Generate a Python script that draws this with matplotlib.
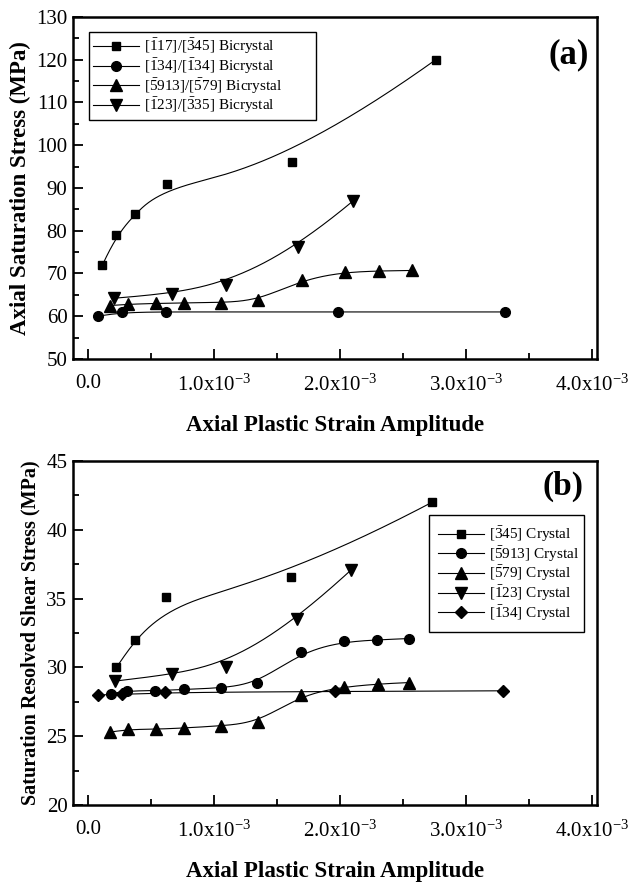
import numpy as np
import matplotlib
matplotlib.use("Agg")
import matplotlib.pyplot as plt
from matplotlib.ticker import MultipleLocator

plt.rcParams['font.family'] = ['Liberation Serif', 'DejaVu Serif']
plt.rcParams['mathtext.fontset'] = 'custom'
plt.rcParams['mathtext.rm'] = 'Liberation Serif'
plt.rcParams['mathtext.it'] = 'Liberation Serif:italic'
plt.rcParams['mathtext.bf'] = 'Liberation Serif:bold'

# ---- panel (a): bicrystals, strain in units of 1e-3 ----
a_sq_x = [0.114, 0.224, 0.376, 0.624, 1.62, 2.76]
a_sq_y = [72, 79, 84, 91, 96, 120]
a_ci_x = [0.082, 0.268, 0.615, 1.98, 3.31]
a_ci_y = [60, 61, 61, 61, 61]
a_tu_x = [0.175, 0.315, 0.536, 0.758, 1.058, 1.35, 1.70, 2.04, 2.31, 2.57]
a_tu_y = [62.5, 62.8, 63.0, 63.1, 63.2, 63.7, 68.5, 70.4, 70.6, 70.7]
a_td_x = [0.204, 0.665, 1.096, 1.668, 2.105]
a_td_y = [64.2, 65.3, 67.2, 76.3, 87.0]

a_labels = [r'[$\bar{1}$17]/[$\bar{3}$45] Bicrystal',
            r'[$\bar{1}$34]/[$\bar{1}$34] Bicrystal',
            r'[$\bar{5}$913]/[$\bar{5}$79] Bicrystal',
            r'[$\bar{1}$23]/[$\bar{3}$35] Bicrystal']

# ---- panel (b): single crystals ----
b_sq_x = [0.225, 0.373, 0.618, 1.61, 2.73]
b_sq_y = [30.0, 32.0, 35.1, 36.6, 42.0]
b_ci_x = [0.18, 0.31, 0.53, 0.76, 1.055, 1.344, 1.694, 2.03, 2.29, 2.55]
b_ci_y = [28.1, 28.3, 28.3, 28.4, 28.5, 28.85, 31.1, 31.9, 32.0, 32.1]
b_tu_x = [0.176, 0.315, 0.54, 0.763, 1.052, 1.35, 1.694, 2.03, 2.30, 2.55]
b_tu_y = [25.3, 25.5, 25.5, 25.6, 25.75, 26.0, 28.0, 28.6, 28.8, 28.9]
b_td_x = [0.21, 0.665, 1.095, 1.66, 2.09]
b_td_y = [29.0, 29.5, 30.0, 33.5, 37.1]
b_di_x = [0.08, 0.27, 0.61, 1.96, 3.29]
b_di_y = [28.0, 28.05, 28.2, 28.25, 28.3]

b_labels = [r'[$\bar{3}$45] Crystal',
            r'[$\bar{5}$913] Crystal',
            r'[$\bar{5}$79] Crystal',
            r'[$\bar{1}$23] Crystal',
            r'[$\bar{1}$34] Crystal']

xtick_vals = [0, 1, 2, 3, 4]
xtick_labels = ['0.0', r'1.0x10$^{-3}$', r'2.0x10$^{-3}$', r'3.0x10$^{-3}$', r'4.0x10$^{-3}$']


def bspline(xs, ys, k=3, num=300):
    # clamped uniform B-spline using the data points as control points
    pts = np.column_stack([xs, ys]).astype(float)
    n = len(pts)
    k = min(k, n - 1)
    t = np.concatenate([np.zeros(k + 1), np.arange(1, n - k), np.full(k + 1, n - k)]).astype(float)
    u = np.linspace(0, n - k, num)
    N = np.zeros((len(t) - 1, num))
    for i in range(len(t) - 1):
        N[i] = (t[i] <= u) & (u < t[i + 1])
    N[n - 1, -1] = 1.0
    for p in range(1, k + 1):
        Nn = np.zeros((len(t) - 1 - p, num))
        for i in range(len(t) - 1 - p):
            d1 = t[i + p] - t[i]
            d2 = t[i + p + 1] - t[i + 1]
            if d1 > 0:
                Nn[i] += (u - t[i]) / d1 * N[i]
            if d2 > 0:
                Nn[i] += (t[i + p + 1] - u) / d2 * N[i + 1]
        N = Nn
    c = N.T @ pts
    return c[:, 0], c[:, 1]


def draw(ax, xs, ys, marker, ms, label):
    x = np.array(xs) * 1e-3
    cx, cy = bspline(x, ys)
    ax.plot(cx, cy, color='black', lw=0.8)
    ax.plot(x, ys, ls='none', marker=marker, ms=ms, color='black')
    return ax.plot([], [], color='black', lw=0.8, marker=marker, ms=ms, label=label)[0]


def style(ax, ylo, yhi, ystep, yminor):
    ax.set_xlim(-0.12e-3, 4.04e-3)
    ax.set_ylim(ylo, yhi)
    ax.set_xticks([v * 1e-3 for v in xtick_vals])
    ax.set_xticklabels(xtick_labels)
    ax.xaxis.set_minor_locator(MultipleLocator(0.5e-3))
    ax.yaxis.set_major_locator(MultipleLocator(ystep))
    ax.yaxis.set_minor_locator(MultipleLocator(yminor))
    ax.tick_params(which='both', direction='in', top=False, right=False, width=1.3)
    ax.tick_params(which='major', length=7, labelsize=15)
    ax.tick_params(axis='x', which='major', pad=11)
    ax.tick_params(axis='y', which='major', pad=4)
    ax.tick_params(which='minor', length=4)
    for s in ax.spines.values():
        s.set_linewidth(1.8)
    ax.set_xlabel('Axial Plastic Strain Amplitude', fontsize=16.5, fontweight='bold', labelpad=14)


fig = plt.figure(figsize=(6.38, 8.82), dpi=100)
ax1 = fig.add_axes([0.1144, 0.593, 0.8213, 0.3878])
ax2 = fig.add_axes([0.1144, 0.0873, 0.8213, 0.390])

h = []
h.append(draw(ax1, a_sq_x, a_sq_y, 's', 6, a_labels[0]))
h.append(draw(ax1, a_ci_x, a_ci_y, 'o', 7, a_labels[1]))
h.append(draw(ax1, a_tu_x, a_tu_y, '^', 8, a_labels[2]))
h.append(draw(ax1, a_td_x, a_td_y, 'v', 8, a_labels[3]))
style(ax1, 50, 130, 10, 5)
ax1.set_ylabel('Axial Saturation Stress (MPa)', fontsize=16.5, fontweight='bold', labelpad=4)
ax1.text(0.985, 0.89, '(a)', transform=ax1.transAxes, ha='right', va='center',
         fontsize=25, fontweight='bold')
ax1.legend(handles=h, loc='upper left', bbox_to_anchor=(0.03, 0.956, 0.434, 0.0),
           mode='expand', borderaxespad=0,
           fancybox=False, edgecolor='black', framealpha=1, fontsize=11,
           handlelength=3.0, labelspacing=0.0, handletextpad=0.3, borderpad=0.3)

h = []
h.append(draw(ax2, b_sq_x, b_sq_y, 's', 6, b_labels[0]))
h.append(draw(ax2, b_ci_x, b_ci_y, 'o', 7, b_labels[1]))
h.append(draw(ax2, b_tu_x, b_tu_y, '^', 8, b_labels[2]))
h.append(draw(ax2, b_td_x, b_td_y, 'v', 8, b_labels[3]))
h.append(draw(ax2, b_di_x, b_di_y, 'D', 6, b_labels[4]))
style(ax2, 20, 45, 5, 2.5)
ax2.set_ylabel('Saturation Resolved Shear Stress (MPa)', fontsize=14.5, fontweight='bold', labelpad=4)
ax2.text(0.975, 0.925, '(b)', transform=ax2.transAxes, ha='right', va='center',
         fontsize=24, fontweight='bold')
ax2.legend(handles=h, loc='upper left', bbox_to_anchor=(0.68, 0.843, 0.295, 0.0),
           mode='expand', borderaxespad=0,
           fancybox=False, edgecolor='black', framealpha=1, fontsize=11,
           handlelength=3.0, labelspacing=0.0, handletextpad=0.3, borderpad=0.6)

fig.savefig('out.png', dpi=100)
